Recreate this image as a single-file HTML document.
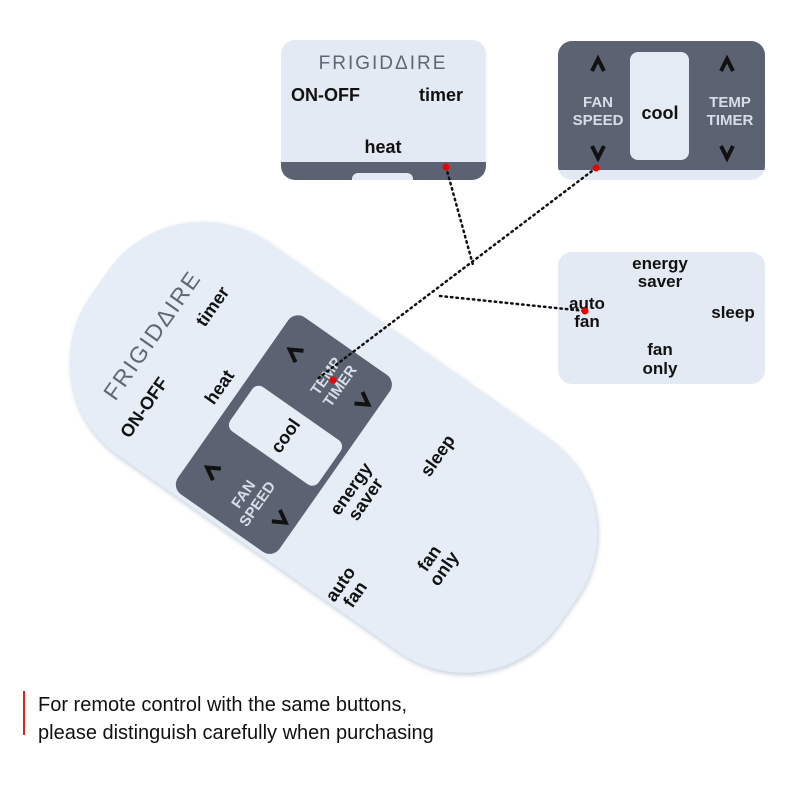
<!DOCTYPE html>
<html><head><meta charset="utf-8"><style>
html,body{margin:0;padding:0;background:#fff;}
svg{display:block;font-family:"Liberation Sans",sans-serif;}
</style></head><body>
<svg width="800" height="800" viewBox="0 0 800 800" xmlns="http://www.w3.org/2000/svg">
<defs>
<filter id="sh" x="-10%" y="-10%" width="120%" height="120%"><feGaussianBlur stdDeviation="2"/></filter>
</defs>
<rect width="800" height="800" fill="#fff"/>

<!-- Remote -->
<g transform="translate(333,469) rotate(-55)">
  <rect x="-114" y="-296" width="262" height="572" rx="115" fill="#cfd7e2" filter="url(#sh)"/>
  <rect x="-112" y="-298" width="260" height="572" rx="115" fill="#e6edf6"/>
  <text x="6" y="-217" text-anchor="middle" font-size="23" fill="#5d6673" letter-spacing="2">FRIGIDΔIRE</text>
  <text x="-58" y="-184" text-anchor="middle" font-size="18" font-weight="bold" fill="#111">ON-OFF</text>
  <text x="64" y="-186" text-anchor="middle" font-size="18" font-weight="bold" fill="#111">timer</text>
  <text x="2" y="-134" text-anchor="middle" font-size="18" font-weight="bold" fill="#111">heat</text>
  <rect x="-108" y="-122" width="216" height="124" rx="12" fill="#5b6373"/>
  <rect x="-27" y="-112" width="54" height="108" rx="8" fill="#e6edf6"/>
  <text x="0" y="-52" text-anchor="middle" font-size="18" font-weight="bold" fill="#111">cool</text>
  <text x="-72" y="-54" text-anchor="middle" font-size="15" font-weight="bold" fill="#d8dee8">FAN</text>
  <text x="-72" y="-37" text-anchor="middle" font-size="15" font-weight="bold" fill="#d8dee8">SPEED</text>
  <text x="72" y="-54" text-anchor="middle" font-size="15" font-weight="bold" fill="#d8dee8">TEMP</text>
  <text x="72" y="-37" text-anchor="middle" font-size="15" font-weight="bold" fill="#d8dee8">TIMER</text>
  <path d="M-78,-92 L-71,-104 L-64,-92" stroke="#111" stroke-width="4" fill="none"/>
  <path d="M66,-92 L73,-104 L80,-92" stroke="#111" stroke-width="4" fill="none"/>
  <path d="M-78,-20 L-71,-8 L-64,-20" stroke="#111" stroke-width="4" fill="none"/>
  <path d="M66,-20 L73,-8 L80,-20" stroke="#111" stroke-width="4" fill="none"/>
  <text x="-6" y="32" text-anchor="middle" font-size="18" font-weight="bold" fill="#111">energy</text>
  <text x="-6" y="50" text-anchor="middle" font-size="18" font-weight="bold" fill="#111">saver</text>
  <text x="71" y="84" text-anchor="middle" font-size="18" font-weight="bold" fill="#111">sleep</text>
  <text x="-90" y="78" text-anchor="middle" font-size="18" font-weight="bold" fill="#111">auto</text>
  <text x="-90" y="96" text-anchor="middle" font-size="18" font-weight="bold" fill="#111">fan</text>
  <text x="-18" y="136" text-anchor="middle" font-size="18" font-weight="bold" fill="#111">fan</text>
  <text x="-18" y="154" text-anchor="middle" font-size="18" font-weight="bold" fill="#111">only</text>
</g>

<!-- Panel A -->
<g>
  <clipPath id="ca"><rect x="281" y="40" width="205" height="140" rx="14"/></clipPath>
  <g clip-path="url(#ca)">
    <rect x="281" y="40" width="205" height="140" fill="#e3eaf3"/>
    <rect x="281" y="162" width="205" height="20" fill="#5b6373"/>
    <rect x="352" y="173" width="61" height="14" rx="6" fill="#e3eaf3"/>
  </g>
  <text x="383" y="69" text-anchor="middle" font-size="19" fill="#5d6673" letter-spacing="2">FRIGIDΔIRE</text>
  <text x="291" y="101" font-size="18" font-weight="bold" fill="#111">ON-OFF</text>
  <text x="463" y="101" text-anchor="end" font-size="18" font-weight="bold" fill="#111">timer</text>
  <text x="383" y="153" text-anchor="middle" font-size="18" font-weight="bold" fill="#111">heat</text>
</g>

<!-- Panel B -->
<g>
  <clipPath id="cb"><rect x="558" y="41" width="207" height="139" rx="14"/></clipPath>
  <g clip-path="url(#cb)">
    <rect x="558" y="41" width="207" height="139" fill="#e3eaf3"/>
    <rect x="558" y="41" width="207" height="129" fill="#5b6373"/>
  </g>
  <rect x="630" y="52" width="59" height="108" rx="8" fill="#e4ebf4"/>
  <text x="660" y="119" text-anchor="middle" font-size="18" font-weight="bold" fill="#111">cool</text>
  <text x="598" y="107" text-anchor="middle" font-size="15" font-weight="bold" fill="#d8dee8">FAN</text>
  <text x="598" y="125" text-anchor="middle" font-size="15" font-weight="bold" fill="#d8dee8">SPEED</text>
  <text x="730" y="107" text-anchor="middle" font-size="15" font-weight="bold" fill="#d8dee8">TEMP</text>
  <text x="730" y="125" text-anchor="middle" font-size="15" font-weight="bold" fill="#d8dee8">TIMER</text>
  <path d="M592,71 L598,59 L604,71" stroke="#111" stroke-width="4" fill="none"/>
  <path d="M721,71 L727,59 L733,71" stroke="#111" stroke-width="4" fill="none"/>
  <path d="M592,146 L598,158 L604,146" stroke="#111" stroke-width="4" fill="none"/>
  <path d="M721,146 L727,158 L733,146" stroke="#111" stroke-width="4" fill="none"/>
</g>

<!-- Panel C -->
<rect x="558" y="252" width="207" height="132" rx="14" fill="#e3eaf3"/>
<text x="660" y="269" text-anchor="middle" font-size="17" font-weight="bold" fill="#111">energy</text>
<text x="660" y="287" text-anchor="middle" font-size="17" font-weight="bold" fill="#111">saver</text>
<text x="587" y="309" text-anchor="middle" font-size="17" font-weight="bold" fill="#111">auto</text>
<text x="587" y="327" text-anchor="middle" font-size="17" font-weight="bold" fill="#111">fan</text>
<text x="733" y="318" text-anchor="middle" font-size="17" font-weight="bold" fill="#111">sleep</text>
<text x="660" y="355" text-anchor="middle" font-size="17" font-weight="bold" fill="#111">fan</text>
<text x="660" y="374" text-anchor="middle" font-size="17" font-weight="bold" fill="#111">only</text>

<!-- connectors -->
<g stroke="#111" stroke-width="2.5" stroke-dasharray="1.5 4" stroke-linecap="round" fill="none">
  <line x1="446" y1="167" x2="473" y2="265"/>
  <line x1="596" y1="168" x2="316" y2="380"/>
  <line x1="440" y1="296" x2="585" y2="311"/>
</g>
<circle cx="446" cy="167" r="3.5" fill="#e00"/>
<circle cx="596" cy="168" r="3.5" fill="#e00"/>
<circle cx="585" cy="311" r="3.5" fill="#e00"/>
<circle cx="333" cy="380" r="3.5" fill="#e00"/>

<!-- caption -->
<rect x="23" y="691" width="2" height="44" fill="#d22"/>
<text x="38" y="711" font-size="20" fill="#111">For remote control with the same buttons,</text>
<text x="38" y="739" font-size="20" fill="#111">please distinguish carefully when purchasing</text>
</svg>
</body></html>
